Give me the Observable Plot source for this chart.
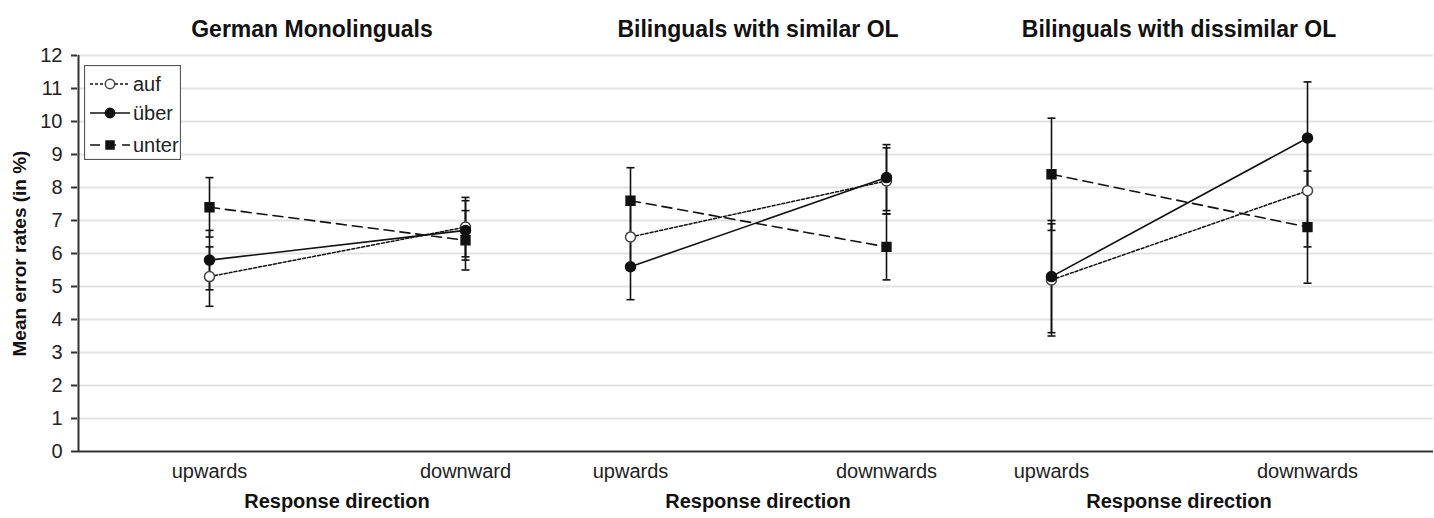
<!DOCTYPE html>
<html>
<head>
<meta charset="utf-8">
<script src="https://cdn.jsdelivr.net/npm/d3@7"></script>
<script src="https://cdn.jsdelivr.net/npm/@observablehq/plot@0.6"></script>
<style>
  body { margin: 0; background: #fff; }
  #chart { position: relative; width: 1434px; height: 518px; font-family: "Liberation Sans", Arial, sans-serif; }
  #legend { position: absolute; left: 84px; top: 65px; }
</style>
</head>
<body>
<div id="chart"></div>
<script>
// Participant groups (one panel each) and response directions
const groups = ["German Monolinguals", "Bilinguals with similar OL", "Bilinguals with dissimilar OL"];
const directions = ["upwards", "downwards"];
const directionLabels = [["upwards", "downward"], ["upwards", "downwards"], ["upwards", "downwards"]];

// Mean error rates (%) per group: [upwards, downwards]
const auf = [[5.3, 6.8], [6.5, 8.2], [5.2, 7.9]];
const uber = [[5.8, 6.7], [5.6, 8.3], [5.3, 9.5]];
const unter = [[7.4, 6.4], [7.6, 6.2], [8.4, 6.8]];

// Error bar half-width per group (%)
const errors = [0.9, 1.0, 1.7];

const yTicks = d3.range(0, 13);

const series = [
  {name: "auf", values: auf},
  {name: "über", values: uber},
  {name: "unter", values: unter}
];

const rows = groups.flatMap((g, gi) =>
  directions.flatMap((dir, di) =>
    series.map(s => ({group: g, dir, series: s.name, value: s.values[gi][di], err: errors[gi]}))
  )
);
const of = name => rows.filter(d => d.series === name);

const tickLabels = groups.flatMap((g, gi) => directions.map((dir, di) => ({group: g, dir, label: directionLabels[gi][di]})));

// horizontal cap for the error bars
const cap = {draw(ctx, size) { const r = Math.sqrt(size / Math.PI); ctx.moveTo(-r, 0); ctx.lineTo(r, 0); }};

const ink = "#111";
// the panels sit inside the plot area; full-width rules are drawn once from the
// first panel and reach out to the plot area's edges
const outL = 49, outR = 43, panelW = 421;
const first = () => groups[0];
const spanRight = -(2 * panelW + outR + 1);

const chart = Plot.plot({
  width: 1434,
  height: 518,
  marginLeft: 77,
  marginRight: 1,
  marginTop: 55,
  marginBottom: 67,
  style: {fontFamily: '"Liberation Sans", Arial, sans-serif', fontSize: "20px", background: "#fff", color: "#222"},
  fx: {domain: groups, paddingInner: 0, paddingOuter: 0.11, align: 0.53, axis: null},
  x: {domain: directions, padding: 0.32, axis: null},
  y: {domain: [0, 12], axis: null},
  marks: [
    // gridlines running across all panels
    Plot.ruleY(yTicks.slice(1), {y: d => d, fx: first, stroke: "#e2e2e2", strokeWidth: 2, insetLeft: -outL, insetRight: spanRight}),
    // y axis: ticks, labels, line and title, in the first panel
    Plot.ruleY(yTicks, {y: d => d, fx: first, stroke: "#333", strokeWidth: 2, insetLeft: -outL - 6, insetRight: panelW + outL}),
    Plot.text(yTicks, {y: d => d, fx: first, text: d => d, frameAnchor: "left", dx: -outL - 15, textAnchor: "end", fontSize: 20, fill: "#222"}),
    Plot.ruleX(directions.slice(0, 1), {x: d => d, fx: first, dx: -(outL + 82), stroke: "#333", strokeWidth: 2}),
    Plot.text(["Mean error rates (in %)"], {fx: first, frameAnchor: "left", textAnchor: "middle", dx: -outL - 58, rotate: -90, fontWeight: "bold", fontSize: 19, fill: ink}),
    // x baseline
    Plot.ruleY([0], {y: d => d, fx: first, stroke: "#333", strokeWidth: 2, insetLeft: -outL, insetRight: spanRight}),

    // panel titles
    Plot.text(groups.slice(0, 1), {fx: d => d, text: d => d, frameAnchor: "top", dy: -35, dx: -25, fontWeight: "bold", fontSize: 23, fill: ink}),
    Plot.text(groups.slice(1), {fx: d => d, text: d => d, frameAnchor: "top", dy: -35, fontWeight: "bold", fontSize: 23, fill: ink}),

    // category labels and axis title per panel
    Plot.text(tickLabels, {fx: "group", x: "dir", text: "label", frameAnchor: "bottom", dy: 26, fontSize: 20, fill: "#222"}),
    Plot.text(groups, {fx: d => d, text: () => "Response direction", frameAnchor: "bottom", dy: 56, fontWeight: "bold", fontSize: 20, fill: ink}),

    // error bars
    Plot.ruleX(rows, {fx: "group", x: "dir", y1: d => d.value - d.err, y2: d => d.value + d.err, stroke: ink, strokeWidth: 1.6}),
    Plot.dot(rows, {fx: "group", x: "dir", y: d => d.value - d.err, symbol: cap, r: 4, stroke: ink, strokeWidth: 1.6}),
    Plot.dot(rows, {fx: "group", x: "dir", y: d => d.value + d.err, symbol: cap, r: 4, stroke: ink, strokeWidth: 1.6}),

    // series lines
    Plot.line(of("auf"), {fx: "group", x: "dir", y: "value", stroke: ink, strokeWidth: 1.5, strokeDasharray: "3,2"}),
    Plot.line(of("über"), {fx: "group", x: "dir", y: "value", stroke: ink, strokeWidth: 1.6}),
    Plot.line(of("unter"), {fx: "group", x: "dir", y: "value", stroke: ink, strokeWidth: 1.6, strokeDasharray: "10,6"}),

    // markers
    Plot.dot(of("auf"), {fx: "group", x: "dir", y: "value", symbol: "circle", r: 5, fill: "#fff", stroke: "#444", strokeWidth: 1.5}),
    Plot.dot(of("über"), {fx: "group", x: "dir", y: "value", symbol: "circle", r: 5, fill: ink, stroke: ink}),
    Plot.dot(of("unter"), {fx: "group", x: "dir", y: "value", symbol: "square", r: 5, fill: ink, stroke: ink})
  ]
});

const container = document.getElementById("chart");
container.appendChild(chart);

// legend box inside the first panel
const legendItems = [
  {name: "auf", dash: "3,2", symbol: d3.symbolCircle, fill: "#fff", stroke: "#444"},
  {name: "über", dash: null, symbol: d3.symbolCircle, fill: ink, stroke: ink},
  {name: "unter", dash: "10,6", symbol: d3.symbolSquare, fill: ink, stroke: ink}
];
const lw = 97, lh = 95, rowY = [19, 48, 80];
const legend = d3.select(container).append("svg")
  .attr("id", "legend").attr("width", lw).attr("height", lh)
  .style("font-family", '"Liberation Sans", Arial, sans-serif');
legend.append("rect").attr("x", 0.5).attr("y", 0.5).attr("width", lw - 1).attr("height", lh - 1)
  .attr("fill", "#fff").attr("stroke", "#555").attr("stroke-width", 1.2);
const item = legend.selectAll("g.item").data(legendItems).join("g")
  .attr("class", "item").attr("transform", (d, i) => `translate(0,${rowY[i]})`);
item.append("line").attr("x1", 6).attr("x2", 46).attr("stroke", ink).attr("stroke-width", 1.5)
  .attr("stroke-dasharray", d => d.dash);
item.append("path").attr("transform", "translate(26,0)")
  .attr("d", d => d3.symbol(d.symbol, d.symbol === d3.symbolSquare ? 64 : 70)())
  .attr("fill", d => d.fill).attr("stroke", d => d.stroke).attr("stroke-width", 1.5);
item.append("text").attr("x", 49).attr("dy", "0.34em").attr("font-size", 20).attr("fill", "#222").text(d => d.name);
</script>
</body>
</html>
